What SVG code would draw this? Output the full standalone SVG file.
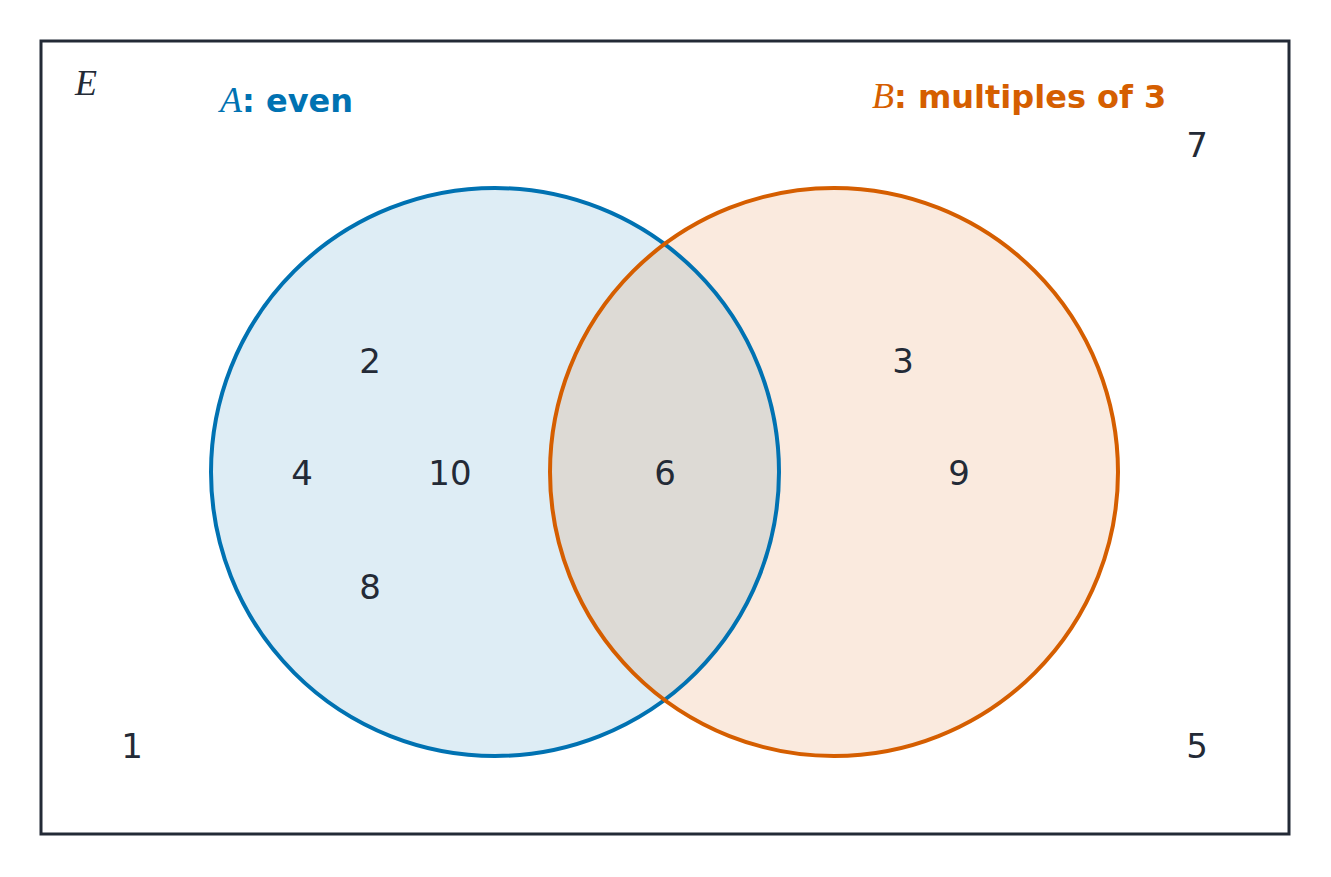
<svg xmlns="http://www.w3.org/2000/svg" width="1331" height="877" viewBox="0 0 1331 877">
<style>
.n{font-family:"DejaVu Sans","Liberation Sans",sans-serif;font-size:34px;fill:#232a36;text-anchor:middle}
.it{font-family:"Liberation Serif",serif;font-style:italic;font-size:36px}
.b{font-family:"DejaVu Sans","Liberation Sans",sans-serif;font-weight:bold;font-size:32px}
</style>
<rect width="1331" height="877" fill="#fff"/>
<g id="universe"><rect x="41" y="41" width="1248" height="793" fill="none" stroke="#232a36" stroke-width="3"/>
<text x="75" y="95" class="it" fill="#232a36">E</text></g>
<g id="setA"><circle cx="495" cy="472" r="284" fill="#0072B2" fill-opacity="0.13"/></g>
<g id="setB"><circle cx="834" cy="472" r="284" fill="#D55E00" fill-opacity="0.13"/></g>
<g id="outlines" fill="none" stroke-width="4">
<circle cx="495" cy="472" r="284" stroke="#0072B2"/>
<circle cx="834" cy="472" r="284" stroke="#D55E00"/>
</g>
<g id="labels">
<text x="220" y="112" fill="#0072B2"><tspan class="it">A</tspan><tspan class="b">: even</tspan></text>
<text x="872" y="108" fill="#D55E00"><tspan class="it">B</tspan><tspan class="b">: multiples of 3</tspan></text>
</g>
<g id="elements">
<text class="n" x="370" y="373">2</text>
<text class="n" x="302" y="485">4</text>
<text class="n" x="450" y="485">10</text>
<text class="n" x="370" y="599">8</text>
<text class="n" x="665" y="485">6</text>
<text class="n" x="903" y="373">3</text>
<text class="n" x="959" y="485">9</text>
<text class="n" x="1197" y="157">7</text>
<text class="n" x="132" y="758">1</text>
<text class="n" x="1197" y="758">5</text>
</g>
</svg>
